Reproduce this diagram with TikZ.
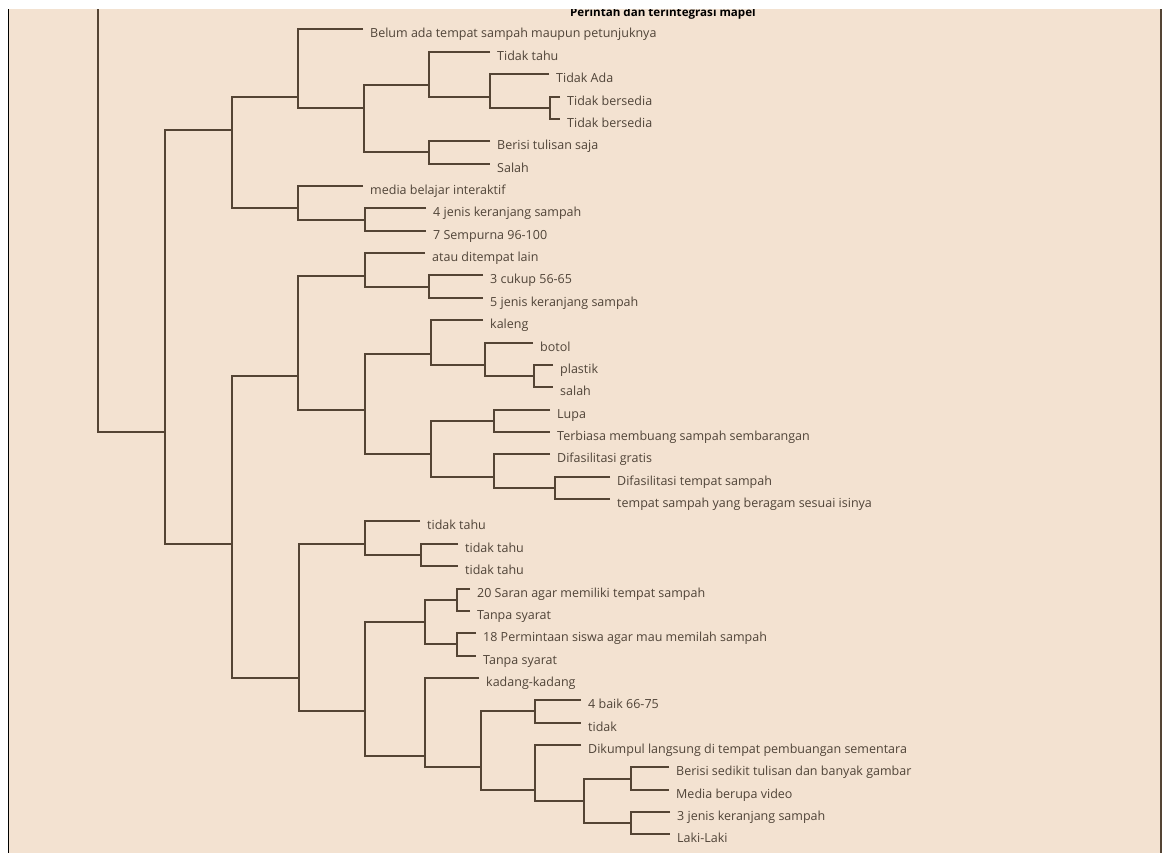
\documentclass[tikz,border=0pt]{standalone}
\usepackage{fontspec}
\setmainfont{Open Sans}
\definecolor{fond}{RGB}{243,226,209}
\definecolor{trait}{RGB}{84,68,52}
\definecolor{texte}{RGB}{80,68,56}
\tikzset{
	branche/.style={draw=trait, line width=2pt},
	feuille/.style={anchor=west, inner xsep=7pt, inner ysep=0pt, text height=17pt, text depth=0pt, text=texte, font=\fontsize{12.5}{15}\selectfont},
}
\begin{document}
\begin{tikzpicture}[x=1pt, y=-1pt]
\useasboundingbox (0, 0) rectangle (1164, 853);
% le fond
\fill[white] (0, 0) rectangle (1164, 853);
\fill[fond] (9, 9) rectangle (1161, 853);
\draw[black, line width=1.5pt] (8.5, 9) -- (8.5, 853);
\draw[trait, line width=1.5pt] (1161, 9) -- (1161, 853);
	% les noeuds internes
	\coordinate (haut) at (98, 0);
	\coordinate (A) at (165, 432.0);
	\coordinate (B) at (232, 130.1);
	\coordinate (C) at (298, 96.6);
	\coordinate (D) at (298, 208.4);
	\coordinate (E) at (364, 107.8);
	\coordinate (F) at (429, 85.4);
	\coordinate (G) at (429, 152.5);
	\coordinate (H) at (490, 96.6);
	\coordinate (I) at (550, 107.8);
	\coordinate (J) at (365, 219.6);
	\coordinate (K) at (232, 543.8);
	\coordinate (L) at (298, 376.1);
	\coordinate (M) at (299, 677.9);
	\coordinate (N) at (365, 543.8);
	\coordinate (O) at (365, 711.4);
	\coordinate (P) at (365, 275.5);
	\coordinate (Q) at (365, 409.6);
	\coordinate (R) at (429, 286.7);
	\coordinate (S) at (431, 353.7);
	\coordinate (T) at (431, 454.3);
	\coordinate (U) at (485, 364.9);
	\coordinate (V) at (534, 376.1);
	\coordinate (W) at (494, 420.8);
	\coordinate (X) at (494, 476.7);
	\coordinate (Y) at (555, 487.9);
	\coordinate (Z) at (421, 555.0);
	\coordinate (AA) at (425, 622.0);
	\coordinate (AB) at (425, 756.2);
	\coordinate (AC) at (457, 599.7);
	\coordinate (AD) at (457, 644.4);
	\coordinate (AE) at (481, 767.4);
	\coordinate (AF) at (535, 711.4);
	\coordinate (AG) at (535, 789.7);
	\coordinate (AH) at (584, 800.9);
	\coordinate (AI) at (631, 778.5);
	\coordinate (AJ) at (631, 823.3);
	\coordinate (c0) at (530, 8);
	% les feuilles
	\node[feuille, text=black, font=\fontsize{11.6}{14}\selectfont\bfseries] (l0) at (563, 8) {Perintah dan terintegrasi mapel};
	\foreach \i/\x/\t in {1/370/Belum ada tempat sampah maupun petunjuknya, 2/497/Tidak tahu, 3/556/Tidak Ada,
		4/567/Tidak bersedia, 5/567/Tidak bersedia, 6/497/Berisi tulisan saja, 7/497/Salah,
		8/370/media belajar interaktif, 9/433/4 jenis keranjang sampah, 10/433/7 Sempurna 96-100,
		11/432/atau ditempat lain, 12/490/3 cukup 56-65, 13/490/5 jenis keranjang sampah,
		14/490/kaleng, 15/540/botol, 16/560/plastik, 17/560/salah, 18/557/Lupa,
		19/557/Terbiasa membuang sampah sembarangan, 20/557/Difasilitasi gratis,
		21/617/Difasilitasi tempat sampah, 22/617/tempat sampah yang beragam sesuai isinya,
		23/427/tidak tahu, 24/465/tidak tahu, 25/465/tidak tahu,
		26/477/20 Saran agar memiliki tempat sampah, 27/477/Tanpa syarat,
		28/483/18 Permintaan siswa agar mau memilah sampah, 29/483/Tanpa syarat,
		30/486/kadang-kadang, 31/588/4 baik 66-75, 32/588/tidak,
		33/588/Dikumpul langsung di tempat pembuangan sementara,
		34/676/Berisi sedikit tulisan dan banyak gambar, 35/676/Media berupa video,
		36/677/3 jenis keranjang sampah, 37/677/Laki-Laki}
		\node[feuille] (l\i) at ({\x-7}, {29.5+22.36*(\i-1)}) {\t};
	% les branches
	\draw[branche] (haut) -- (haut |- A) -- (A);
	\draw[branche] (c0) -- (l0);
	\foreach \p/\a/\b in {A/B/K, B/C/D, C/l1/E, E/F/G, F/l2/H, H/l3/I, I/l4/l5, G/l6/l7,
		D/l8/J, J/l9/l10, K/L/M, L/P/Q, P/l11/R, R/l12/l13, Q/S/T, S/l14/U, U/l15/V,
		V/l16/l17, T/W/X, W/l18/l19, X/l20/Y, Y/l21/l22, M/N/O, N/l23/Z, Z/l24/l25,
		O/AA/AB, AA/AC/AD, AC/l26/l27, AD/l28/l29, AB/l30/AE, AE/AF/AG, AF/l31/l32,
		AG/l33/AH, AH/AI/AJ, AI/l34/l35, AJ/l36/l37}
		\draw[branche] (\a) -- (\p |- \a) -- (\p |- \b) -- (\b);
% bande du haut
\fill[white] (0, 0) rectangle (1164, 9);
\end{tikzpicture}
\end{document}
